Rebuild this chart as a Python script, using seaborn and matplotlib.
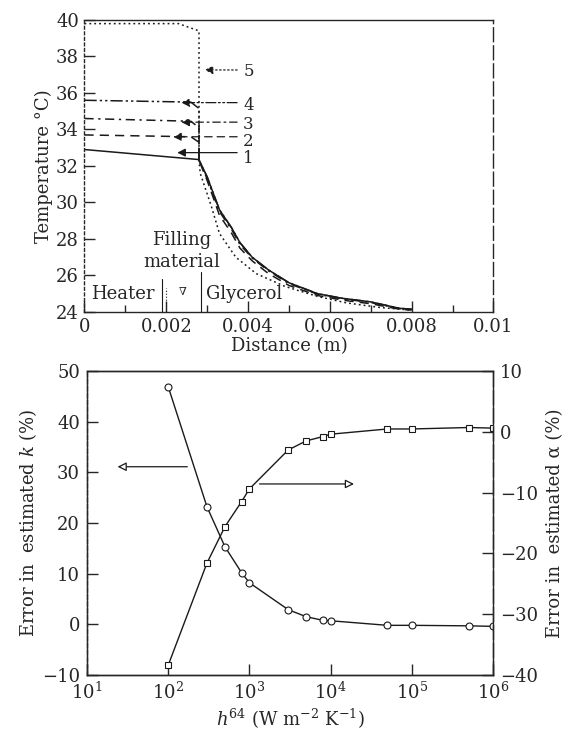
import numpy as np
import pandas as pd
import matplotlib
matplotlib.use("Agg")
import matplotlib.pyplot as plt
import seaborn as sns
from matplotlib.ticker import MultipleLocator, LogLocator

# top panel: temperature profiles (distance in m, temperature in degC)
x1 = [0, 0.0028, 0.0030, 0.0033, 0.0036, 0.0038, 0.0041, 0.0045, 0.0050, 0.0057, 0.0063, 0.0070, 0.0077, 0.0080]
t1 = [32.9, 32.35, 31.4, 29.6, 28.6, 27.8, 27.0, 26.3, 25.6, 25.0, 24.75, 24.55, 24.2, 24.15]
x2 = [0, 0.0026, 0.0028, 0.0028, 0.0030, 0.0033, 0.0036, 0.0038, 0.0041, 0.0045, 0.0050, 0.0057, 0.0063, 0.0070, 0.0077, 0.0080]
t2 = [33.7, 33.6, 33.3, 32.3, 31.2, 29.3, 28.3, 27.5, 26.8, 26.1, 25.45, 24.9, 24.65, 24.45, 24.15, 24.1]
x3 = x2
t3 = [34.6, 34.45, 34.1, 32.3, 31.3, 29.5, 28.5, 27.7, 26.95, 26.25, 25.55, 24.97, 24.72, 24.52, 24.18, 24.12]
x4 = x2
t4 = [35.6, 35.5, 35.15, 32.3, 31.4, 29.6, 28.6, 27.8, 27.0, 26.3, 25.6, 25.0, 24.75, 24.55, 24.2, 24.15]
x5 = [0, 0.0023, 0.0028, 0.0028, 0.00283, 0.0031, 0.0033, 0.0037, 0.0042, 0.0049, 0.0057, 0.0064, 0.0072, 0.0080]
t5 = [39.8, 39.8, 39.4, 32.3, 31.6, 29.8, 28.3, 27.0, 26.1, 25.4, 24.85, 24.5, 24.25, 24.1]

curve_labels = ["1", "2", "3", "4", "5"]
label_t = [32.4, 33.33, 34.25, 35.34, 37.17]
arrow_tips = [(0.0022, 32.73), (0.0021, 33.6), (0.0023, 34.4), (0.0023, 35.47), (0.00287, 37.26)]

# bottom panel: error vs heat transfer coefficient
h = [1e2, 3e2, 5e2, 8e2, 1e3, 3e3, 5e3, 8e3, 1e4, 5e4, 1e5, 5e5, 1e6]
err_k = [46.9, 23.2, 15.3, 10.2, 8.2, 2.9, 1.5, 0.8, 0.7, -0.2, -0.2, -0.3, -0.4]
err_alpha = [-38.4, -21.6, -15.6, -11.5, -9.4, -3.0, -1.5, -0.8, -0.4, 0.46, 0.46, 0.7, 0.6]

sns.set_theme(style="ticks")
plt.rcParams['font.family'] = ['DejaVu Serif']
plt.rcParams['mathtext.fontset'] = 'dejavuserif'
plt.rcParams['font.size'] = 13

fig = plt.figure(figsize=(5.72, 7.34), dpi=100)
ax = fig.add_axes([0.1477, 0.575, 0.7150, 0.3978])

styles = ['-', (0, (6, 4)), (0, (6, 3, 1.5, 3)), (0, (8, 2, 1.5, 2, 1.5, 2)), (0, (1.2, 2))]
for xs, ts, ls in zip([x1, x2, x3, x4, x5], [t1, t2, t3, t4, t5], styles):
    sns.lineplot(x=xs, y=ts, ax=ax, sort=False, estimator=None, color='k', lw=1.1, linestyle=ls)

for lab, ly, (xt, yt), ls in zip(curve_labels, label_t, arrow_tips, styles):
    ax.annotate("", xy=(xt, yt), xytext=(0.0038, yt),
                arrowprops=dict(arrowstyle='-|>', color='k', lw=0.9, ls=ls, mutation_scale=12))
    ax.text(0.00388, ly, lab, ha='left', va='center', fontsize=12)

ax.text(0.00238, 27.95, "Filling", ha='center', va='center', fontsize=13)
ax.text(0.00238, 26.76, "material", ha='center', va='center', fontsize=13)
ax.text(0.00094, 25.0, "Heater", ha='center', va='center', fontsize=13)
ax.text(0.0024, 25.1, "∇", ha='center', va='center', fontsize=8)
ax.text(0.0039, 25.0, "Glycerol", ha='center', va='center', fontsize=13)
ax.plot([0.0019, 0.0019], [24, 25.8], color='k', lw=0.8)
ax.plot([0.0020, 0.0020], [24, 25.3], color='k', lw=0.8, ls=':')
ax.plot([0.00286, 0.00286], [24, 26.2], color='k', lw=0.8)

ax.set_xlim(0, 0.01)
ax.set_ylim(24, 40)
ax.xaxis.set_minor_locator(MultipleLocator(0.001))
ax.yaxis.set_major_locator(MultipleLocator(2))
ax.set_xticks([0, 0.002, 0.004, 0.006, 0.008, 0.01])
ax.set_xticklabels(["0", "0.002", "0.004", "0.006", "0.008", "0.01"])
ax.tick_params(direction='in', length=8, width=1, labelsize=13, pad=4)
ax.tick_params(which='minor', direction='in', length=5)
ax.set_xlabel("Distance (m)", fontsize=13, labelpad=1)
ax.set_ylabel("Temperature °C)", fontsize=13, labelpad=2)
ax.spines['left'].set_linestyle((0, (2, 2)))
ax.spines['right'].set_linestyle((0, (10, 3)))
for s in ax.spines.values():
    s.set_linewidth(1)

# bottom panel
bx = fig.add_axes([0.1521, 0.0804, 0.7098, 0.4142])
bx2 = bx.twinx()
sns.lineplot(x=h, y=err_k, ax=bx, sort=False, estimator=None, color='k', lw=1,
             marker='o', markersize=5, markerfacecolor='white', markeredgecolor='k', markeredgewidth=0.8)
sns.lineplot(x=h, y=err_alpha, ax=bx2, sort=False, estimator=None, color='k', lw=1,
             marker='s', markersize=5, markerfacecolor='white', markeredgecolor='k', markeredgewidth=0.8)
bx.set_xscale('log')
bx2.set_xscale('log')
bx.set_xlim(10, 1e6)
bx.set_ylim(-10, 50)
bx2.set_ylim(-40, 10)
bx.yaxis.set_major_locator(MultipleLocator(10))
bx2.yaxis.set_major_locator(MultipleLocator(10))
bx.xaxis.set_major_locator(LogLocator(base=10, numticks=10))
bx.xaxis.set_minor_locator(plt.NullLocator())

bx.annotate("", xy=(22, 31.1), xytext=(186, 31.1),
            arrowprops=dict(arrowstyle='-|>', fc='white', ec='k', lw=0.9, mutation_scale=13))
bx.annotate("", xy=(21000, 27.7), xytext=(1230, 27.7),
            arrowprops=dict(arrowstyle='-|>', fc='white', ec='k', lw=0.9, mutation_scale=13))

bx.tick_params(direction='in', length=8, width=1, labelsize=13, pad=5)
bx2.tick_params(direction='in', length=8, width=1, labelsize=13, pad=5)
bx.set_xlabel("$h^{64}$ (W m$^{-2}$ K$^{-1}$)", fontsize=13, labelpad=3)
bx.set_ylabel("Error in  estimated $\\mathbf{\\mathit{k}}$ (%)", fontsize=13, labelpad=2)
bx2.set_ylabel("Error in  estimated α (%)", fontsize=13, labelpad=6)
bx.spines['left'].set_linestyle((0, (3, 2)))
bx2.spines['right'].set_linestyle((0, (10, 3)))
for s in list(bx.spines.values()) + list(bx2.spines.values()):
    s.set_linewidth(1)

fig.savefig("out.png", dpi=100)
